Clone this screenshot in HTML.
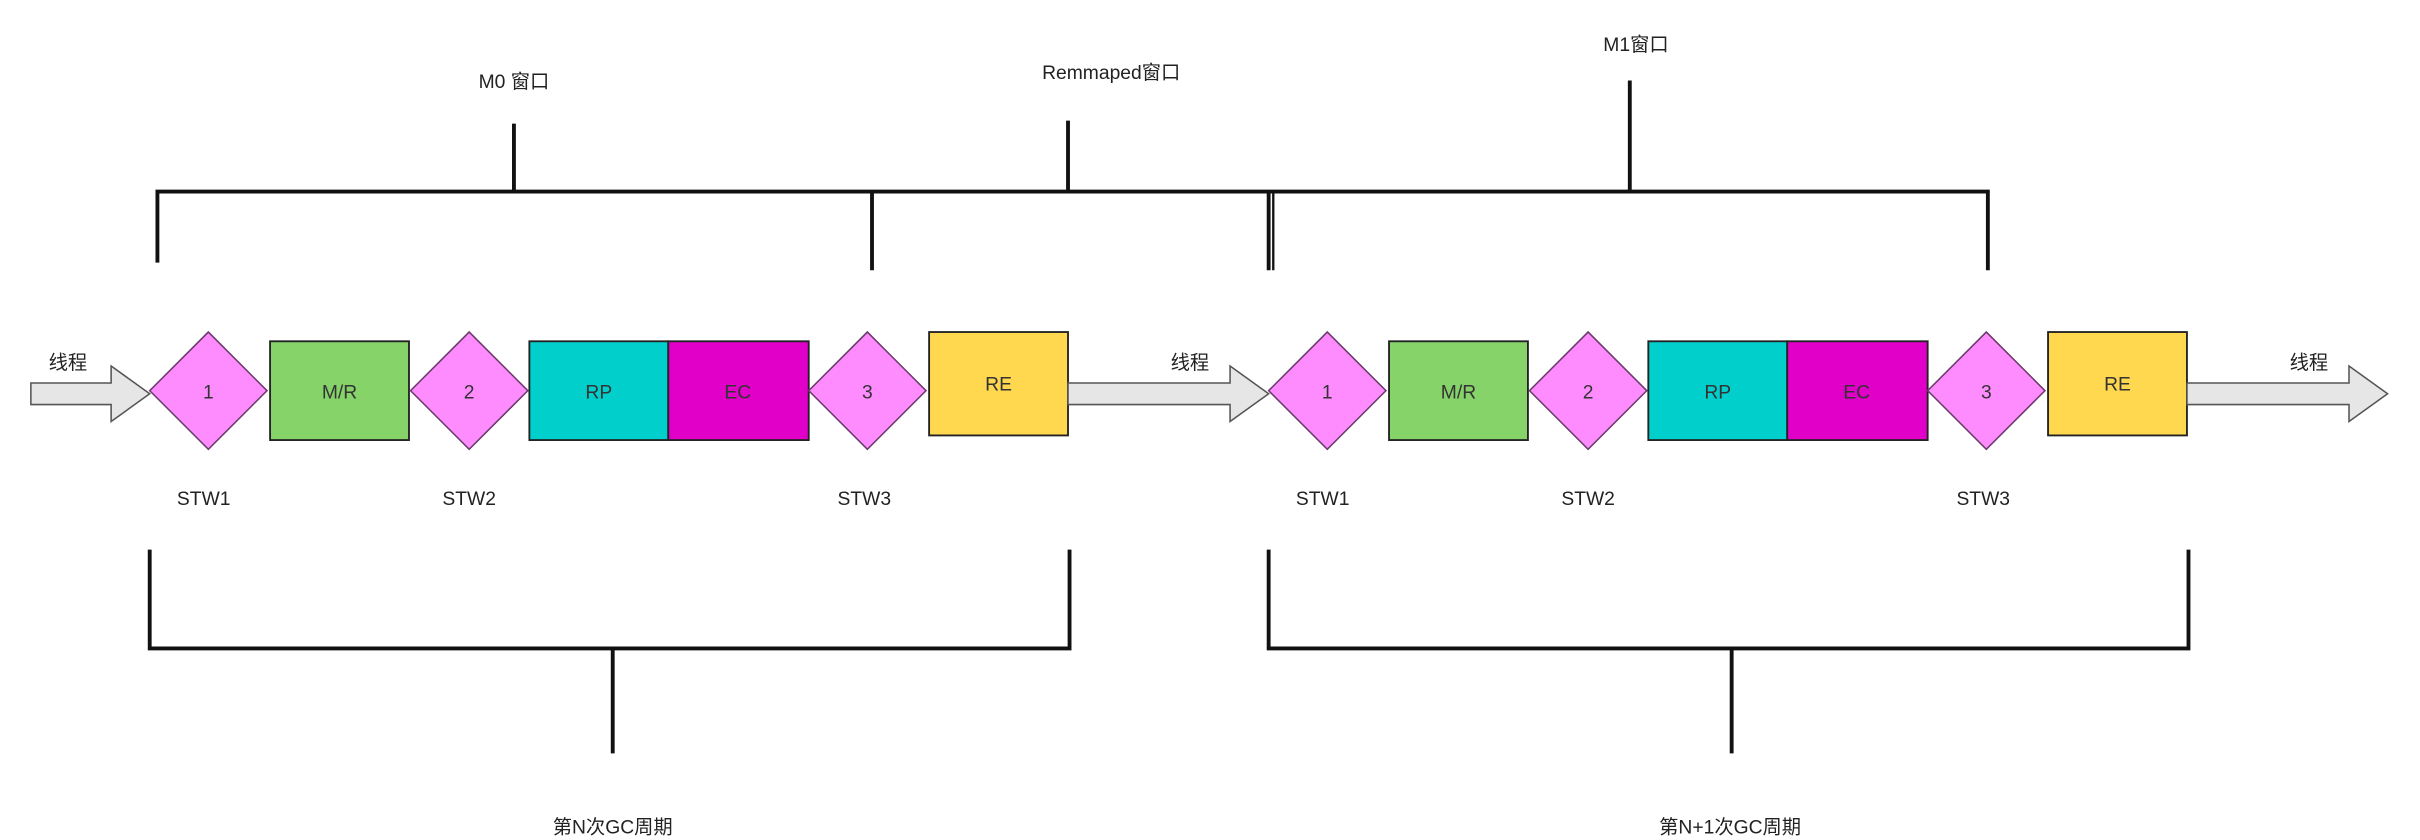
<!DOCTYPE html>
<html><head><meta charset="utf-8"><style>html,body{margin:0;padding:0;background:#fff}svg{display:block}</style></head><body>
<svg width="2420" height="840" viewBox="0 0 1568 544" xmlns="http://www.w3.org/2000/svg" font-family="Liberation Sans, Noto Sans CJK SC, sans-serif" font-size="12.5">
<defs>
<g id="grp">
<polygon points="97,253 135,215 173,253 135,291" fill="#ff8cff" stroke="#6b3b6b" stroke-width="1"/>
<text x="135" y="258" text-anchor="middle" fill="#333">1</text>
<rect x="175" y="221" width="90" height="64" fill="#86d36a" stroke="#222" stroke-width="1.2"/>
<text x="220" y="258" text-anchor="middle" fill="#333">M/R</text>
<polygon points="266,253 304,215 342,253 304,291" fill="#ff8cff" stroke="#6b3b6b" stroke-width="1"/>
<text x="304" y="258" text-anchor="middle" fill="#333">2</text>
<rect x="343" y="221" width="90" height="64" fill="#00cfcc" stroke="#222" stroke-width="1.2"/>
<text x="388" y="258" text-anchor="middle" fill="#333">RP</text>
<rect x="433" y="221" width="91" height="64" fill="#e000c8" stroke="#222" stroke-width="1.2"/>
<text x="478" y="258" text-anchor="middle" fill="#333">EC</text>
<polygon points="524,253 562,215 600,253 562,291" fill="#ff8cff" stroke="#6b3b6b" stroke-width="1"/>
<text x="562" y="258" text-anchor="middle" fill="#333">3</text>
<rect x="602" y="215" width="90" height="67" fill="#ffd84f" stroke="#222" stroke-width="1.2"/>
<text x="647" y="253" text-anchor="middle" fill="#333">RE</text>
<polygon points="692,248 797,248 797,237 822,255 797,273 797,262 692,262" fill="#e6e6e6" stroke="#555" stroke-width="1"/>
<text x="771" y="239" text-anchor="middle" fill="#222">线程</text>
<text x="132" y="327" text-anchor="middle" fill="#222">STW1</text>
<text x="304" y="327" text-anchor="middle" fill="#222">STW2</text>
<text x="560" y="327" text-anchor="middle" fill="#222">STW3</text>
<path d="M97,356 V420 H693 V356 M397,420 V488" fill="none" stroke="#111" stroke-width="2.5"/>
</g>
</defs>
<polygon points="20,248 72,248 72,237 97,255 72,273 72,262 20,262" fill="#e6e6e6" stroke="#555" stroke-width="1"/>
<text x="44" y="239" text-anchor="middle" fill="#222">线程</text>
<use href="#grp"/>
<use href="#grp" transform="translate(725,0)"/>
<text x="397" y="544" dy="-4" text-anchor="middle" fill="#222">第N次GC周期</text>
<text x="1121" y="544" dy="-4" text-anchor="middle" fill="#222">第N+1次GC周期</text>
<path d="M102,170 V124 H1288 V175 M333,80 V124 M565,124 V175 M692,78 V124 M822,124 V175 M1056,52 V124" fill="none" stroke="#111" stroke-width="2.5"/>
<path d="M825,124 V175" stroke="#111" stroke-width="1.5"/>
<text x="333" y="57" text-anchor="middle" fill="#222">M0 窗口</text>
<text x="720" y="51" text-anchor="middle" fill="#222">Remmaped窗口</text>
<text x="1060" y="33" text-anchor="middle" fill="#222">M1窗口</text>
</svg>
</body></html>
